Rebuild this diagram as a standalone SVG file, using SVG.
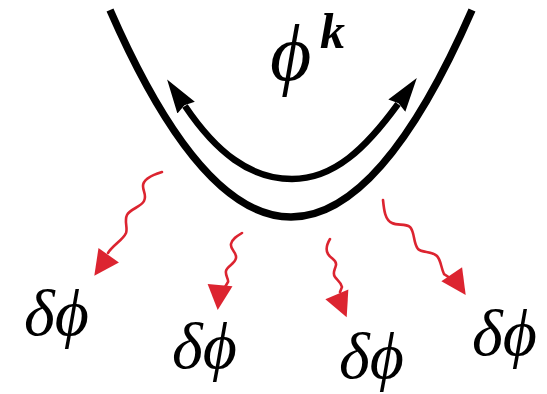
<svg xmlns="http://www.w3.org/2000/svg" width="547" height="394" viewBox="0 0 547 394">
<style>
.well{fill:none;stroke:#000;stroke-width:7.5}
.cyc{fill:none;stroke:#000;stroke-width:6.5}
.wave{fill:none;stroke:#dc2430;stroke-width:2.6;stroke-linecap:round}
.lbl{font-family:"Liberation Serif","DejaVu Serif",serif;font-style:italic;fill:#000}
</style>
<defs>
<marker id="blk" viewBox="0 0 34 21" refX="2" refY="10.5" markerWidth="34" markerHeight="21" markerUnits="userSpaceOnUse" orient="auto-start-reverse">
<path d="M0,0 L34,10.5 L0,21 L3,10.5 z" fill="#000"/>
</marker>
<path id="rtri" d="M0,0 L-25,-12.5 L-25,12.5 z" fill="#dc2430"/>
</defs>
<g id="well">
<path class="well" d="M110,10 Q291,424 472,10"/>
</g>
<g id="connectors">
<path id="cycle" class="cyc" d="M185,106 C216,152 250,179 292,179 C334,179 366,148 398,104" marker-start="url(#blk)" marker-end="url(#blk)"/>
<g id="fluct1">
<path class="wave" d="M162,172 C152,175 143,179 143,186 C143,192 147,195 144,201 C141,207 130,209 127,215 C124,221 128,228 126,233 C123,240 113,245 108,253"/>
<use href="#rtri" transform="translate(94.3,275.7) rotate(125.2)"/>
</g>
<g id="fluct2">
<path class="wave" d="M242,233 C237,236 232,239 231,244 C230,250 237,252 236,258 C235,264 227,266 226,271 C225,276 229,279 228,282 L225,287"/>
<use href="#rtri" transform="translate(217.7,310) rotate(95.4)"/>
</g>
<g id="fluct3">
<path class="wave" d="M330,239 C327,244 325,249 328,254 C331,259 337,260 336,265 C335,270 332,273 335,277 C337,280 341,282 342,287 L340,292"/>
<use href="#rtri" transform="translate(346.7,317.3) rotate(66.8)"/>
</g>
<g id="fluct4">
<path class="wave" d="M383,200 C384,210 385,220 392,223 C398,226 405,223 410,227 C415,232 413,243 418,249 C422,253 432,251 437,256 C441,260 441,268 444,274 L450,278"/>
<use href="#rtri" transform="translate(465.7,295) rotate(56)"/>
</g>
</g>
<g id="phik">
<text class="lbl" x="270" y="80" font-size="80">ϕ</text>
<text class="lbl" x="320" y="48" font-size="50" font-weight="bold">k</text>
</g>
<g id="dphi1"><text class="lbl" x="24" y="335" font-size="66">δϕ</text></g>
<g id="dphi2"><text class="lbl" x="172" y="368" font-size="66">δϕ</text></g>
<g id="dphi3"><text class="lbl" x="339" y="378" font-size="66">δϕ</text></g>
<g id="dphi4"><text class="lbl" x="472" y="355" font-size="66">δϕ</text></g>
</svg>
